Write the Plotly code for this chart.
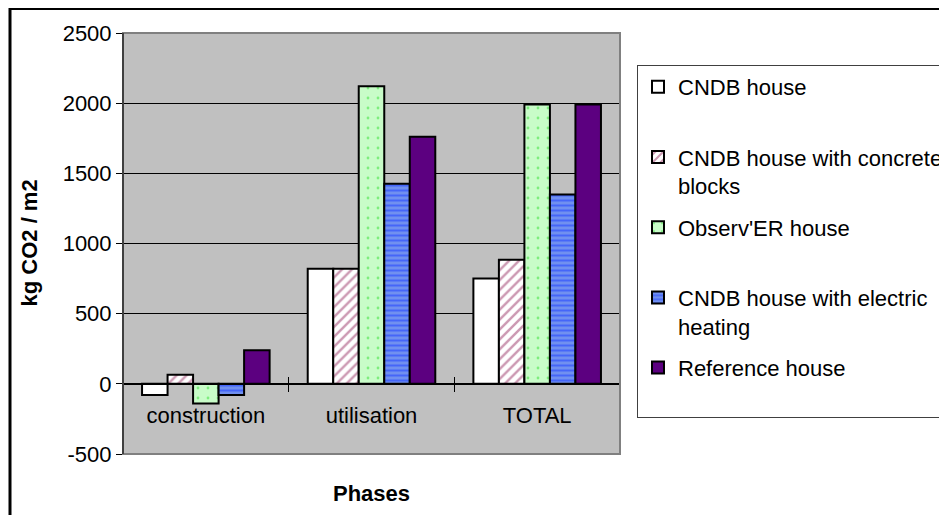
import plotly.graph_objects as go

categories = ["construction", "utilisation", "TOTAL"]
series_names = [
    "CNDB house",
    "CNDB house with concrete<br>blocks",
    "Observ'ER house",
    "CNDB house with electric<br>heating",
    "Reference house",
]
cndb = [-80, 820, 750]
cndb_concrete = [65, 820, 885]
observer = [-140, 2120, 1990]
cndb_electric = [-80, 1425, 1350]
reference = [240, 1760, 1990]
y_ticks = [-500, 0, 500, 1000, 1500, 2000, 2500]

values = [cndb, cndb_concrete, observer, cndb_electric, reference]
styles = [
    dict(color="white", pattern=dict(shape="")),
    dict(color="white", pattern=dict(shape="/", fgcolor="#993366", bgcolor="white", size=7, solidity=0.35)),
    dict(color="#ccffcc", pattern=dict(shape=".", fgcolor="#33dd33", bgcolor="#c8fcc8", size=10, solidity=0.06)),
    dict(color="#7090f0", pattern=dict(shape="-", fgcolor="#1a3cff", bgcolor="#7090f0", size=5, solidity=0.4)),
    dict(color="#5c0080", pattern=dict(shape="")),
]

FONT = "Liberation Sans, Arial, sans-serif"
FS = 22

fig = go.Figure()
for i, (name, vals, st) in enumerate(zip(series_names, values, styles)):
    lname = name if "<br>" in name else name + "<br>&nbsp;"
    fig.add_trace(go.Bar(
        x=categories, y=vals, name=lname, legendgroup=f"g{i}",
        marker=dict(color=st["color"], pattern=st["pattern"],
                    line=dict(color="black", width=2)),
    ))

# page has an 8px body margin; figure coords = page coords - 8
W, H = 939, 507
L, T = 115, 25
R = W - 612
B = H - 446
pw = W - L - R
ph = H - T - B

zero_pos = (0 - y_ticks[0]) / (y_ticks[-1] - y_ticks[0])

fig.update_layout(
    width=W, height=H,
    margin=dict(l=L, r=R, t=T, b=B, autoexpand=False),
    paper_bgcolor="white",
    plot_bgcolor="#c0c0c0",
    barmode="group",
    bargap=0.23,
    bargroupgap=0,
    font=dict(family=FONT, size=FS, color="black"),
    xaxis=dict(
        type="category", anchor="free", position=zero_pos,
        showline=True, linecolor="black", linewidth=1,
        ticks="outside", ticklen=7, tickcolor="black", tickson="boundaries",
        showgrid=False, ticklabelstandoff=12,
        tickfont=dict(family=FONT, size=FS, color="black"),
        range=[-0.5, 2.5],
    ),
    xaxis2=dict(
        overlaying="x", anchor="free", position=zero_pos,
        range=[-0.5, 2.5], tickvals=[-0.5, 0.5, 1.5, 2.5],
        ticks="inside", ticklen=7, tickcolor="black",
        showticklabels=False, showgrid=False, showline=False, zeroline=False,
    ),
    yaxis=dict(
        range=[y_ticks[0], y_ticks[-1]], tickvals=y_ticks,
        ticktext=[str(v) for v in y_ticks],
        showline=True, linecolor="black", linewidth=1,
        ticks="outside", ticklen=6, tickcolor="black",
        showgrid=True, gridcolor="black", gridwidth=1,
        zeroline=True, zerolinecolor="black", zerolinewidth=1,
        tickfont=dict(family=FONT, size=FS, color="black"),
    ),
    legend=dict(
        x=(629 - L) / pw, y=(H - B - 57) / ph, xanchor="left", yanchor="top",
        bgcolor="white", bordercolor="#404040", borderwidth=1,
        font=dict(family=FONT, size=FS, color="black"),
        tracegroupgap=10, valign="top",
    ),
    annotations=[
        dict(text="<b>Phases</b>", xref="paper", yref="paper",
             x=0.5, y=(H - B - 485) / ph, xanchor="center", yanchor="middle",
             showarrow=False, font=dict(family=FONT, size=FS, color="black")),
        dict(text="<b>kg CO2 / m2</b>", xref="paper", yref="paper",
             x=(21 - L) / pw, y=0.5, xanchor="center", yanchor="middle",
             textangle=-90, showarrow=False,
             font=dict(family=FONT, size=FS, color="black")),
    ],
    shapes=[
        dict(type="rect", xref="paper", yref="paper", x0=0, x1=1, y0=0, y1=1,
             line=dict(color="#808080", width=2)),
        dict(type="line", xref="paper", yref="paper", x0=0, x1=0, y0=0, y1=1,
             line=dict(color="black", width=1)),
        dict(type="rect", xref="paper", yref="paper",
             x0=(2 - L) / pw, x1=(W + 20 - L) / pw,
             y0=(H - B - (H + 20)) / ph, y1=(H - B - 0.5) / ph,
             line=dict(color="black", width=3)),
    ],
)

fig.add_trace(go.Scatter(x=[0], y=[0], xaxis="x2", mode="markers",
                         marker=dict(opacity=0), showlegend=False, hoverinfo="skip"))

fig.write_html("out.html")
